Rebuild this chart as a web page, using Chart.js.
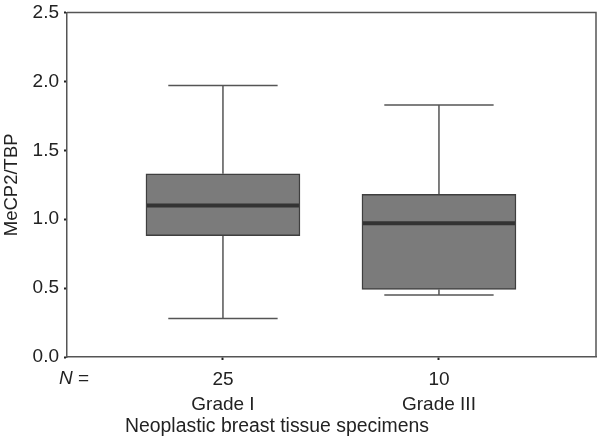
<!DOCTYPE html>
<html>
<head>
<meta charset="utf-8">
<script src="https://cdn.jsdelivr.net/npm/chart.js@4/dist/chart.umd.min.js"></script>
<style>
html,body{margin:0;padding:0;background:#fff;}
#wrap{width:600px;height:444px;}
</style>
</head>
<body>
<div id="wrap"><canvas id="c" width="600" height="444"></canvas></div>
<script>
// ---- data ----
const categories = ["Grade I", "Grade III"];
const counts = ["25", "10"];
const whiskerLow = [0.28, 0.45];
const q1 = [0.88, 0.49];
const median = [1.10, 0.97];
const q3 = [1.33, 1.18];
const whiskerHigh = [1.97, 1.83];
const yTicks = [0.0, 0.5, 1.0, 1.5, 2.0, 2.5];
const yTitle = "MeCP2/TBP";
const xTitle = "Neoplastic breast tissue specimens";
const nLabel = "N =";

const FONT = "'Liberation Sans', Arial, Helvetica, sans-serif";
const positions = categories.map((_, i) => i + 1);

const boxPlugin = {
  id: 'boxParts',
  beforeDatasetsDraw(chart) {
    const ctx = chart.ctx, x = chart.scales.x, y = chart.scales.y;
    const meta = chart.getDatasetMeta(0);
    ctx.save();
    ctx.strokeStyle = '#555';
    ctx.lineWidth = 1.5;
    positions.forEach((p, i) => {
      const cx = x.getPixelForValue(p);
      const w = meta.data[i].width;
      const cap = w * 0.355;
      const yl = y.getPixelForValue(whiskerLow[i]);
      const yh = y.getPixelForValue(whiskerHigh[i]);
      const y1 = y.getPixelForValue(q1[i]);
      const y3 = y.getPixelForValue(q3[i]);
      ctx.beginPath();
      ctx.moveTo(cx, yh); ctx.lineTo(cx, y3);
      ctx.moveTo(cx, y1); ctx.lineTo(cx, yl);
      ctx.moveTo(cx - cap, yh); ctx.lineTo(cx + cap, yh);
      ctx.moveTo(cx - cap, yl); ctx.lineTo(cx + cap, yl);
      ctx.stroke();
    });
    ctx.restore();
  },
  afterDatasetsDraw(chart) {
    const ctx = chart.ctx, x = chart.scales.x, y = chart.scales.y;
    const meta = chart.getDatasetMeta(0);
    ctx.save();
    ctx.strokeStyle = '#333';
    ctx.lineWidth = 4;
    positions.forEach((p, i) => {
      const cx = x.getPixelForValue(p);
      const w = meta.data[i].width;
      const ym = y.getPixelForValue(median[i]);
      ctx.beginPath();
      ctx.moveTo(cx - w / 2 + 1, ym); ctx.lineTo(cx + w / 2 - 1, ym);
      ctx.stroke();
    });
    // frame top/right
    const a = chart.chartArea;
    ctx.strokeStyle = '#555';
    ctx.lineWidth = 1.5;
    ctx.beginPath();
    ctx.moveTo(a.left, a.top); ctx.lineTo(a.right, a.top); ctx.lineTo(a.right, a.bottom);
    ctx.stroke();
    // N = label and x title
    ctx.fillStyle = '#222';
    ctx.textBaseline = 'middle';
    ctx.textAlign = 'left';
    ctx.font = 'italic 19px ' + FONT;
    ctx.fillText('N', 59, 379);
    const nw = ctx.measureText('N').width;
    ctx.font = '19px ' + FONT;
    ctx.fillText(' =', 59 + nw, 379);
    ctx.font = '19.4px ' + FONT;
    ctx.fillText(xTitle, 125, 427);
    ctx.restore();
  }
};

new Chart(document.getElementById('c'), {
  type: 'bar',
  data: {
    datasets: [{
      data: positions.map((p, i) => ({ x: p, y: [q1[i], q3[i]] })),
      backgroundColor: '#7b7b7b',
      borderColor: '#3f3f3f',
      borderWidth: 1.5,
      borderSkipped: false,
      barThickness: 154
    }]
  },
  options: {
    responsive: false,
    animation: false,
    devicePixelRatio: 1,
    layout: { padding: { top: 3, right: 4, left: 0, bottom: 0 } },
    plugins: { legend: { display: false }, tooltip: { enabled: false } },
    scales: {
      x: {
        type: 'linear',
        min: 0.278,
        max: 2.727,
        offset: false,
        afterBuildTicks: s => { s.ticks = positions.map(v => ({ value: v })); },
        afterFit: s => { s.height = 87; },
        ticks: {
          callback: (v) => { const i = positions.indexOf(v); return i >= 0 ? [counts[i], categories[i]] : ''; },
          font: { family: FONT, size: 19, lineHeight: 1.316 },
          color: '#222',
          padding: 7,
          maxRotation: 0,
          autoSkip: false
        },
        grid: { offset: false, drawOnChartArea: false, tickLength: 3, tickWidth: 2, tickColor: '#222' },
        border: { display: true, color: '#555', width: 1.5 }
      },
      y: {
        min: 0,
        max: 2.5,
        afterBuildTicks: s => { s.ticks = yTicks.map(v => ({ value: v })); },
        afterFit: s => { s.width = 67; },
        ticks: {
          callback: v => v.toFixed(1),
          font: { family: FONT, size: 19, lineHeight: 0.8 },
          color: '#222',
          padding: 5
        },
        grid: { drawOnChartArea: false, tickLength: 3, tickWidth: 2, tickColor: '#222' },
        border: { display: true, color: '#555', width: 1.5 },
        title: {
          display: true,
          text: yTitle,
          font: { family: FONT, size: 18.5 },
          color: '#222',
          padding: { top: 1, bottom: 0 }
        }
      }
    }
  },
  plugins: [boxPlugin]
});
</script>
</body>
</html>
